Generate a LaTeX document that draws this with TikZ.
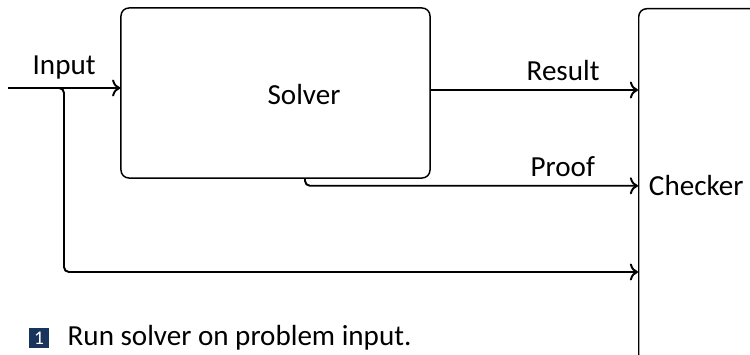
\documentclass[tikz,border=0pt]{standalone}
\usepackage{fontspec}
\setmainfont{Carlito}
\usetikzlibrary{positioning, arrows.meta}
\definecolor{badgeblue}{RGB}{24,52,92}

\begin{document}
\begin{tikzpicture}[
    x=0.0145cm, y=-0.0145cm,
    box/.style={draw, semithick, rounded corners=3.3pt},
    flow/.style={->, thick, rounded corners=2pt},
    every node/.style={font=\fontsize{12}{14}\selectfont},
    badge/.style={fill=badgeblue, text=white, font=\footnotesize, inner sep=0pt, minimum size=8.2pt},
    node distance=4pt,
  ]
    \clip (0,0) rectangle (750,355);
    \node[box, minimum width=4.48cm, minimum height=2.465cm] (solver) at (275.5,93) {};
    \node (solvertext) at (304,95) {Solver};
    \node[box, anchor=north west, minimum width=2.3cm, minimum height=5.133cm] (checker) at (638,8) {};
    \node[right=1pt of checker.west] (checkertext) {Checker};

    \coordinate (in) at (8,88);
    \coordinate (split) at (50,88);
    \coordinate (branch) at (64,272);
    \coordinate (res) at (430,90);

    \draw[flow] (in) -- node[above] {Input} (in -| solver.west);
    \draw[flow] (res) -- node[above, pos=0.64] {Result} (res -| checker.west);
    \draw[flow] ([xshift=0.428cm]solver.south) |- node[above, pos=0.887] {Proof} (checker.west);
    \draw[flow] (split) -| (branch) -- (branch -| checker.west);

    \node[badge] (badge1) at (39,338) {1};
    \node[right=of badge1] (step1) {Run solver on problem input.};
\end{tikzpicture}
\end{document}
